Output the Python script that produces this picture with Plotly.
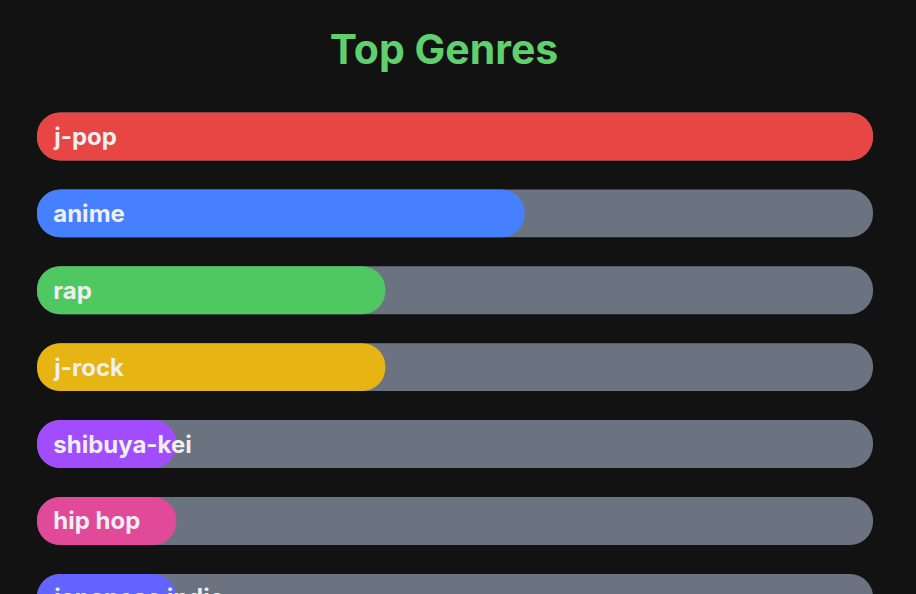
import plotly.graph_objects as go

genres = ["j-pop", "anime", "rap", "j-rock", "shibuya-kei", "hip hop", "japanese indie"]
counts = [12, 7, 5, 5, 2, 2, 2]
colors = ["#e84545", "#4680ff", "#4fc862", "#e6b413", "#a14cff", "#e04a99", "#6363ff"]

TRACK = "#6b7280"
BG = "#121212"
max_v = max(counts)
ypos = list(range(len(genres)))
zeros = [0] * len(genres)

fig = go.Figure()
common = dict(orientation="h", width=0.623, hoverinfo="skip", showlegend=False)

# gray track (floating bars with explicit base get both ends rounded)
fig.add_trace(go.Bar(y=ypos, x=[max_v] * len(genres), base=zeros,
                     marker=dict(color=TRACK, cornerradius=24, line_width=0), **common))
# value bars
fig.add_trace(go.Bar(y=ypos, x=counts, base=zeros,
                     marker=dict(color=colors, cornerradius=24, line_width=0), **common))
# labels
fig.add_trace(go.Bar(
    y=ypos, x=[max_v - 0.19] * len(genres), base=[0.19] * len(genres),
    marker=dict(color="rgba(0,0,0,0)", line_width=0),
    text=genres, textposition="inside", insidetextanchor="start", textangle=0,
    insidetextfont=dict(family="Inter", size=24, color="#efefef", weight=700),
    **common))

fig.update_layout(
    barmode="overlay",
    width=916, height=594,
    paper_bgcolor=BG, plot_bgcolor=BG,
    margin=dict(l=37, r=43, t=98, b=0),
    title=dict(text="<b>Top Genres</b>", x=0.4847, xanchor="center", y=0.916, yanchor="middle",
               font=dict(family="Inter", size=41, color="#5fd06c")),
    xaxis=dict(range=[0, max_v], visible=False, fixedrange=True),
    yaxis=dict(range=[5.95, -0.5], visible=False, fixedrange=True),
)

fig.write_html("out.html")
